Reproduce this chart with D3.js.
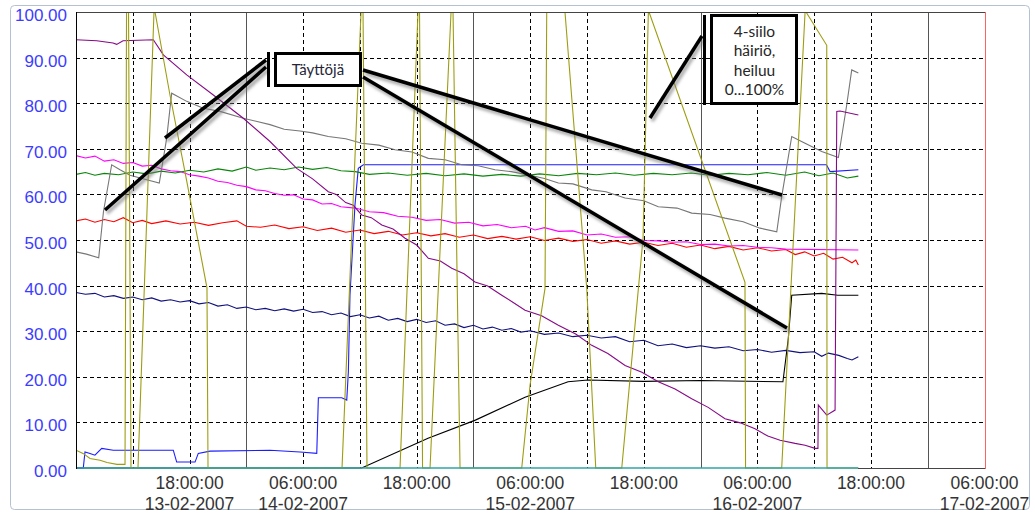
<!DOCTYPE html>
<html>
<head>
<meta charset="utf-8">
<script src="https://cdnjs.cloudflare.com/ajax/libs/d3/7.8.5/d3.min.js"></script>
<style>
body { margin: 0; background: #fff; }
svg { display: block; }
</style>
</head>
<body>
<div class="canvas"></div>
<script>
// time values are hours counted from 13-02-2007 06:00
var start = new Date(2007, 1, 13, 6, 0, 0)
var totalHours = 96
var tickHours = [12, 24, 36, 48, 60, 72, 84, 96]
var dateLabels = ["13-02-2007", "14-02-2007", "", "15-02-2007", "", "16-02-2007", "", "17-02-2007"]
var yTicks = [0, 10, 20, 30, 40, 50, 60, 70, 80, 90, 100]

var teal = [[0, 0], [82.67, 0]]
var black = [[0, 0], [30.19, 0], [37.2, 6.5], [42.2, 10.5], [47.45, 15.5], [52.0, 18.9], [54.1, 19.3], [60, 19.0], [66, 19.2], [74.7, 18.9], [75.27, 28.4], [75.63, 37.9], [78.8, 38.3], [80.5, 37.9], [82.67, 37.9]]
var blue = [[0, 0], [0.77, 0], [0.95, 3.5], [1.48, 3.2], [2.0, 2.8], [2.72, 4.3], [3.94, 3.9], [10.28, 3.9], [10.64, 1.3], [12.58, 1.3], [12.92, 3.2], [14.16, 3.7], [20.5, 3.9], [23.67, 3.5], [25.44, 3.2], [25.61, 15.4], [28.08, 15.4], [28.61, 14.9], [28.78, 21.1], [28.95, 37.9], [29.48, 57.7], [29.83, 65.7], [30.36, 66.5], [79.3, 66.5], [79.68, 65.0], [82.67, 65.4]]
var navy = [[0, 38.5], [1, 38.1], [2, 38.3], [3, 37.5], [4, 37.8], [5, 37.2], [6, 37.5], [7, 36.9], [8, 37.3], [9, 36.6], [10, 36.9], [11, 36.4], [12, 36.7], [13, 36.0], [14, 36.3], [15, 35.5], [16, 35.8], [17, 35.0], [18, 35.3], [19, 34.7], [20, 35.0], [21, 34.5], [22, 34.9], [23, 34.4], [24, 34.8], [25, 34.1], [26, 34.3], [27, 33.6], [28, 34.0], [29, 33.2], [30, 33.6], [31, 32.9], [32, 33.3], [33, 32.4], [34, 32.8], [35, 32.1], [36, 32.6], [37, 31.9], [38, 32.3], [39, 31.3], [40, 31.6], [41, 30.8], [42, 31.3], [43, 30.5], [44, 30.9], [45, 30.2], [46, 30.6], [47, 29.8], [48, 30.1], [49.5, 29.3], [51, 29.6], [52.5, 28.8], [54, 29.1], [55.5, 28.5], [57, 28.8], [58.5, 27.7], [60, 28.0], [61.5, 26.8], [63, 27.2], [64.5, 26.4], [66, 26.8], [67.5, 26.3], [69, 26.6], [70.5, 25.7], [72, 26.0], [73.5, 25.4], [75, 25.8], [76.5, 25.3], [78, 25.5], [78.8, 24.5], [79.5, 25.2], [80.6, 24.7], [81.5, 24.0], [82, 23.7], [82.67, 24.4]]
var red = [[0, 54.2], [1, 54.6], [2, 53.9], [3, 54.5], [4, 54.0], [5, 54.9], [6, 53.8], [7, 54.3], [8, 53.6], [9.5, 54.2], [11, 53.5], [12.5, 53.9], [14, 53.2], [15.5, 53.8], [17, 54.2], [18, 53.0], [19.5, 52.8], [21, 53.3], [22.5, 52.5], [24, 52.9], [25.5, 52.1], [27, 52.6], [28.5, 51.7], [30, 52.2], [31.5, 51.4], [33, 51.9], [34.5, 51.1], [36, 51.6], [37.5, 50.9], [39, 51.4], [40.5, 50.6], [42, 51.1], [43.5, 50.3], [45, 50.8], [46.5, 50.2], [48, 50.7], [49.5, 49.9], [51, 50.4], [52.5, 49.7], [54, 50.1], [55.5, 49.3], [57, 49.8], [58.5, 49.1], [60, 49.5], [61.5, 48.8], [63, 49.3], [64.5, 48.4], [66, 48.9], [67.5, 48.1], [69, 48.6], [70.5, 47.8], [72, 48.3], [73.5, 47.6], [75, 47.9], [76, 46.8], [77, 47.4], [78, 46.5], [79, 47.1], [80, 45.8], [81, 46.2], [82, 45.0], [82.4, 45.6], [82.67, 44.5]]
var magenta = [[0, 68.5], [1, 68.0], [2, 68.4], [3, 67.3], [4, 67.6], [5, 66.8], [6, 67.0], [7, 66.2], [8, 66.4], [9, 65.6], [10, 65.2], [11, 65.0], [12, 64.3], [13, 64.0], [14, 63.6], [15, 62.9], [16, 62.6], [17, 62.0], [18, 61.7], [19, 61.0], [20, 60.8], [21, 60.2], [22, 59.8], [23, 59.9], [24, 59.0], [25, 58.8], [26, 57.9], [27, 58.0], [28, 57.3], [29.5, 57.0], [31, 56.2], [32.5, 56.0], [34, 55.2], [35.5, 55.0], [37, 54.3], [38.5, 54.5], [40, 53.7], [41.5, 53.9], [43, 53.1], [44.5, 53.4], [46, 52.7], [47.5, 53.0], [48.5, 52.2], [49.5, 52.7], [51, 51.9], [52.5, 52.0], [54, 51.1], [55.5, 51.3], [57, 50.6], [58.5, 50.7], [60, 49.9], [61.5, 49.8], [63, 49.5], [64.5, 49.6], [66, 49.0], [67.5, 49.1], [69, 48.7], [70.5, 48.8], [72, 48.4], [73.5, 48.3], [75, 48.0], [82.67, 47.8]]
var green = [[0, 64.4], [1, 64.8], [2, 64.2], [3, 64.6], [4.5, 64.3], [6, 64.9], [7.5, 64.5], [9, 65.1], [10.5, 64.7], [12, 65.3], [13.5, 64.9], [15, 65.6], [16.5, 65.1], [18, 66.0], [19, 65.3], [20.5, 65.8], [22, 65.4], [23.5, 66.0], [25, 65.5], [26.5, 65.9], [28, 65.2], [29.5, 65.0], [31, 64.4], [33, 64.7], [35, 64.2], [37, 64.6], [39, 64.1], [41, 64.5], [43, 64.0], [45, 64.4], [47, 64.0], [49, 64.5], [51, 64.1], [53, 64.6], [55, 64.3], [57, 64.7], [59, 64.2], [61, 64.6], [63, 64.3], [65, 64.7], [67, 64.2], [69, 64.6], [71, 64.3], [73, 64.8], [75, 64.2], [77, 64.9], [78.5, 64.1], [80, 64.7], [81.5, 63.6], [82.67, 64.0]]
var gray = [[0, 47.4], [1.1, 46.9], [2.4, 46.1], [2.9, 56.2], [3.77, 66.5], [4.65, 65.4], [5.71, 64.2], [7.47, 63.2], [8.8, 62.5], [9.58, 72.3], [10.11, 82.2], [11.7, 80.4], [13.45, 78.9], [15.22, 78.2], [17.68, 76.7], [20.5, 75.3], [22, 74.3], [23.67, 73.9], [25, 73.5], [26.66, 72.7], [28.5, 72.2], [30.19, 71.2], [32, 70.8], [33.71, 69.8], [35.5, 69.3], [37.23, 67.9], [39, 67.6], [40.76, 66.5], [42.5, 66.3], [44.28, 65.4], [46, 65.0], [47.98, 64.2], [49.5, 63.5], [50.97, 62.5], [52.5, 62.3], [54.5, 61.0], [56, 60.6], [58.02, 59.2], [60, 58.6], [61.53, 57.3], [63.5, 57.0], [65.06, 55.9], [67, 55.6], [68.58, 54.8], [70.5, 54.0], [72.28, 52.6], [74.05, 51.8], [74.57, 59.5], [75.63, 72.7], [77.04, 71.2], [78.8, 69.4], [80.56, 68.1], [81.44, 79.6], [81.97, 87.3], [82.67, 86.6]]
var purple = [[0, 93.9], [2.19, 93.7], [3.91, 93.2], [4.3, 92.9], [4.97, 93.7], [8.17, 93.9], [9.23, 90.6], [11.7, 86.2], [14.51, 81.8], [17.68, 76.7], [20.5, 71.6], [23.32, 65.7], [25, 63.4], [26.66, 60.6], [27.5, 60.0], [28.5, 58.2], [29.3, 57.6], [30.19, 55.5], [31.2, 54.9], [32.31, 53.3], [33.5, 52.4], [34.77, 50.4], [36, 48.9], [37.23, 46.0], [38.5, 45.4], [39.7, 43.8], [41, 42.6], [42.16, 40.8], [43.5, 39.9], [44.99, 37.9], [46.2, 36.3], [47.45, 34.6], [49.2, 33.4], [50.97, 31.3], [52.8, 29.4], [54.5, 26.9], [56.2, 25.1], [58.02, 22.5], [59.8, 21.0], [61.53, 18.9], [63.3, 17.3], [65.06, 15.2], [66.8, 13.3], [68.58, 10.8], [70.2, 9.9], [71.75, 8.6], [73.1, 7.0], [74.4, 6.1], [75.98, 5.4], [77.04, 5.0], [78.09, 4.3], [78.4, 4.3], [78.44, 13.8], [79.33, 11.6], [80.21, 12.7], [80.39, 78.2], [80.73, 78.3], [82.67, 77.4]]
var olive = [[0, 3.9], [0.74, 3.2], [1.48, 2.1], [2.54, 1.7], [3.28, 1.2], [4.33, 0.8], [5.18, 0.8], [5.34, 100], [5.55, 100], [5.81, 0], [6.55, 0], [8.24, 100], [8.35, 100], [9.93, 81.8], [11.52, 64.9], [13.84, 39.5], [13.95, 0], [28.11, 0], [30.12, 100], [30.33, 100], [30.75, 0], [34.24, 0], [36.14, 100], [36.3, 100], [36.62, 0], [37.41, 0], [39.63, 100], [39.84, 100], [40.58, 0], [47.1, 0], [47.98, 18.2], [49.56, 39.4], [49.74, 100], [51.67, 100], [53.97, 39.4], [54.92, 0], [57.67, 0], [59.92, 50.4], [60.48, 100], [60.55, 100], [70.69, 40.7], [70.75, 0], [74.57, 0], [77.04, 100], [77.14, 100], [79.33, 92.7], [79.36, 0], [82.64, 0]]

const dims = { width: 1035, height: 513 }
const plot = { left: 76, right: 984.5, top: 12, bottom: 468 }

function t(h) { return new Date(start.getTime() + h * 3600000) }

var x = d3.scaleTime().domain([start, t(totalHours)]).range([plot.left, plot.right])
var y = d3.scaleLinear().domain([0, 100]).range([plot.bottom, plot.top])

var svg = d3.select('.canvas').append('svg')
  .attr('width', dims.width)
  .attr('height', dims.height)

var defs = svg.append('defs')
defs.append('clipPath').attr('id', 'clip')
  .append('rect').attr('x', plot.left).attr('y', plot.top)
  .attr('width', plot.right - plot.left).attr('height', plot.bottom - plot.top + 1)
defs.append('filter').attr('id', 'blur').attr('x', '-20%').attr('y', '-20%').attr('width', '140%').attr('height', '140%')
  .append('feGaussianBlur').attr('stdDeviation', 1.6)

// outer frame
svg.append('rect')
  .attr('x', 10.5).attr('y', 5.5).attr('width', 1019).attr('height', 504).attr('rx', 4)
  .attr('fill', '#fff').attr('stroke', '#b3c1d1')

var grid = svg.append('g').attr('shape-rendering', 'crispEdges')

// horizontal grid
yTicks.filter(v => v > 0 && v < 100).forEach(v => {
  grid.append('line')
    .attr('x1', plot.left).attr('x2', plot.right)
    .attr('y1', Math.round(y(v)) + 0.5).attr('y2', Math.round(y(v)) + 0.5)
    .attr('stroke', '#000').attr('stroke-dasharray', '4,3')
})

// vertical grid every 6 hours, midnight solid
for (var h = 6; h < totalHours; h += 6) {
  var px = Math.round(x(t(h))) + 0.5
  var midnight = t(h).getHours() == 0
  grid.append('line')
    .attr('x1', px).attr('x2', px)
    .attr('y1', plot.top).attr('y2', plot.bottom)
    .attr('stroke', midnight ? '#555' : '#000')
    .attr('stroke-dasharray', midnight ? null : '4,3')
}

// y labels
svg.append('g').selectAll('text')
  .data(yTicks).enter().append('text')
  .attr('x', 67).attr('y', d => y(d) + 9)
  .attr('text-anchor', 'end')
  .attr('font-family', 'Liberation Sans, Arial, sans-serif')
  .attr('font-size', 17)
  .attr('fill', '#3c3cff')
  .text(d => d.toFixed(2))

// x labels
var fmtTime = d3.timeFormat('%H:%M:%S')
var xl = svg.append('g')
  .attr('font-family', 'Liberation Sans, Arial, sans-serif')
  .attr('font-size', 17.5)
  .attr('fill', '#333')
  .attr('text-anchor', 'middle')
tickHours.forEach((h, i) => {
  xl.append('text').attr('x', x(t(h))).attr('y', 489).text(fmtTime(t(h)))
  if (dateLabels[i] != '') xl.append('text').attr('x', x(t(h))).attr('y', 510).text(dateLabels[i])
})

// series, teal last so the zero line stays visible
var series = [
  [black, '#000000', 1.1],
  [blue, '#1c1cff', 1.1],
  [navy, '#10107e', 1.1],
  [red, '#ff0000', 1.1],
  [magenta, '#ff00ff', 1.1],
  [green, '#0a850a', 1.1],
  [gray, '#767676', 1.1],
  [purple, '#860a86', 1.1],
  [olive, '#9d9d12', 1.1],
  [teal, '#2fa5a5', 1.6]
]

var line = d3.line()
  .x(d => x(t(d[0])))
  .y(d => y(d[1]))

var graph = svg.append('g').attr('clip-path', 'url(#clip)')
series.forEach(s => {
  graph.append('path')
    .attr('d', line(s[0]))
    .attr('fill', 'none')
    .attr('stroke', s[1])
    .attr('stroke-width', s[2])
})

// plot border over the series
var border = svg.append('g').attr('shape-rendering', 'crispEdges')
border.append('line').attr('x1', plot.left).attr('x2', plot.right).attr('y1', plot.top + 0.5).attr('y2', plot.top + 0.5).attr('stroke', '#444')
border.append('line').attr('x1', x(t(teal[teal.length - 1][0]))).attr('x2', plot.right).attr('y1', plot.bottom + 0.5).attr('y2', plot.bottom + 0.5).attr('stroke', '#444')
border.append('line').attr('x1', plot.left + 0.5).attr('x2', plot.left + 0.5).attr('y1', plot.top).attr('y2', plot.bottom + 1).attr('stroke', '#000')
border.append('line').attr('x1', Math.round(plot.right) + 0.5).attr('x2', Math.round(plot.right) + 0.5).attr('y1', plot.top).attr('y2', plot.bottom + 1).attr('stroke', '#ff6262')

// callouts (drawn shapes on top of the chart)
var pointers = [
  [[266, 60], [165, 138]],
  [[266, 67], [105, 210]],
  [[363, 70], [782, 195]],
  [[363, 77], [787, 328]],
  [[650, 118], [702, 36]]
]
var notes = svg.append('g')
pointers.forEach(p => {
  notes.append('line')
    .attr('x1', p[0][0] + 2).attr('y1', p[0][1] + 3)
    .attr('x2', p[1][0] + 2).attr('y2', p[1][1] + 3)
    .attr('stroke', '#777').attr('stroke-opacity', 0.6)
    .attr('stroke-width', 4).attr('filter', 'url(#blur)')
})
pointers.forEach(p => {
  notes.append('line')
    .attr('x1', p[0][0]).attr('y1', p[0][1])
    .attr('x2', p[1][0]).attr('y2', p[1][1])
    .attr('stroke', '#000').attr('stroke-width', 3.5)
})

// Täyttöjä box
notes.append('line').attr('x1', 268.5).attr('x2', 268.5).attr('y1', 52).attr('y2', 87).attr('stroke', '#000').attr('stroke-width', 3)
notes.append('rect').attr('x', 275.5).attr('y', 53.5).attr('width', 85).attr('height', 32)
  .attr('fill', '#fff').attr('stroke', '#000').attr('stroke-width', 3)
notes.append('text').attr('x', 318).attr('y', 75)
  .attr('text-anchor', 'middle')
  .attr('font-family', 'Lato, sans-serif').attr('font-size', 15)
  .attr('fill', '#262637')
  .text('Täyttöjä')

// 4-siilo box
notes.append('line').attr('x1', 704.5).attr('x2', 704.5).attr('y1', 15).attr('y2', 105).attr('stroke', '#000').attr('stroke-width', 3)
notes.append('rect').attr('x', 711.5).attr('y', 15.5).attr('width', 85).attr('height', 88)
  .attr('fill', '#fff').attr('stroke', '#000').attr('stroke-width', 3)
var noteLines = ['4-siilo', 'häiriö,', 'heiluu', '0...100%']
noteLines.forEach((s, i) => {
  notes.append('text').attr('x', 754.5).attr('y', 37 + i * 19.3)
    .attr('text-anchor', 'middle')
    .attr('font-family', 'Lato, sans-serif').attr('font-size', 15.5)
    .attr('fill', '#262626')
    .text(s)
})
</script>
</body>
</html>
